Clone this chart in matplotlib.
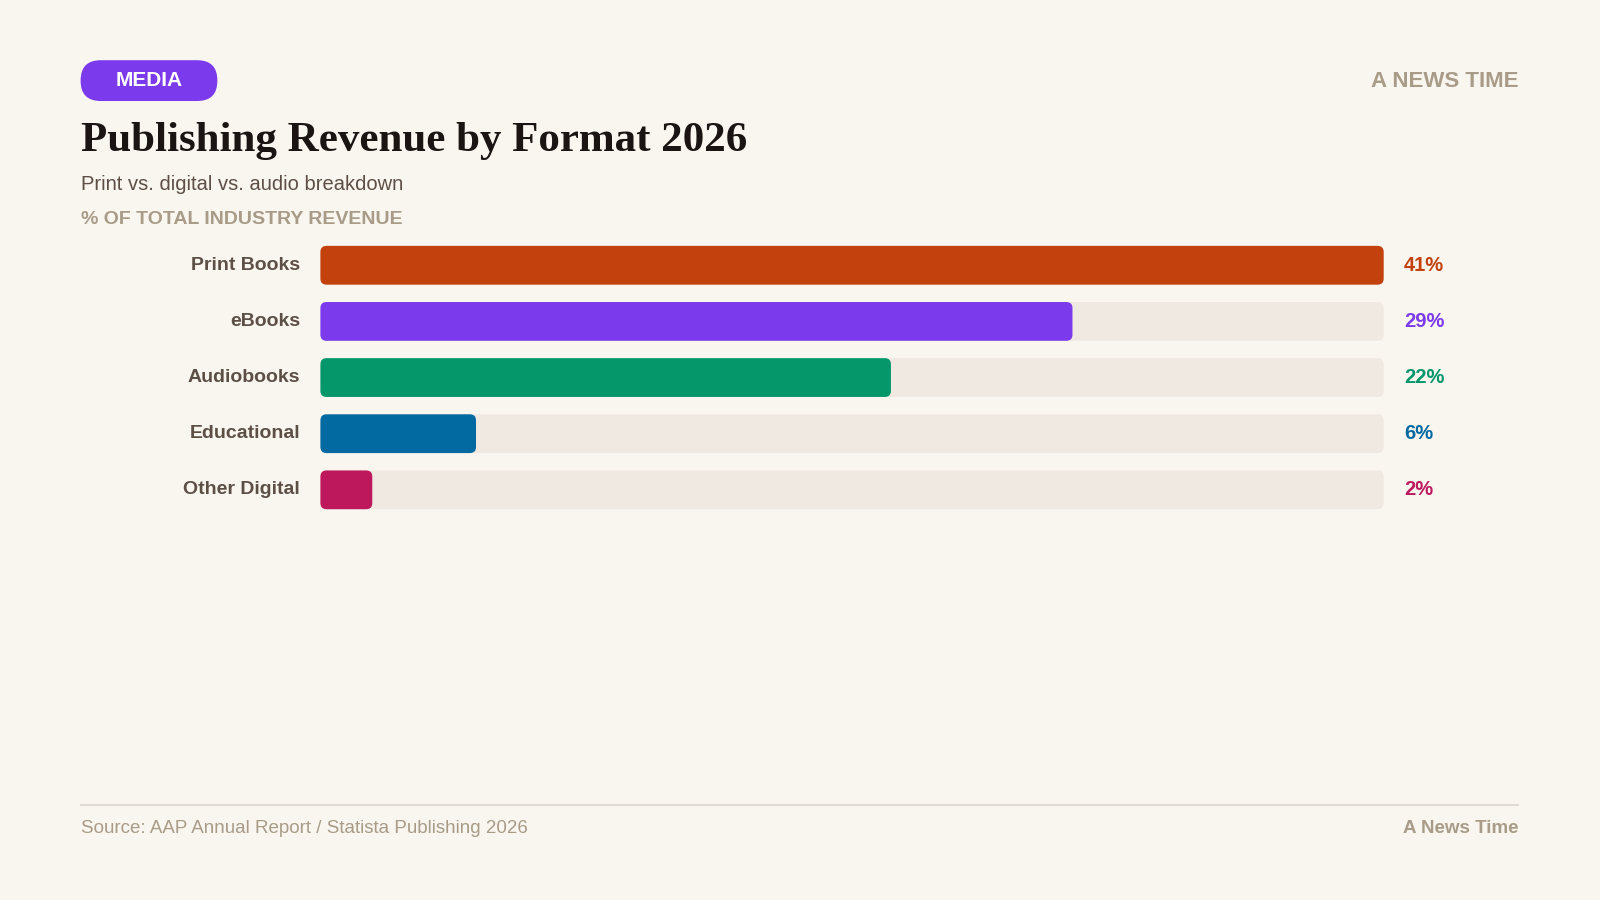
import matplotlib.pyplot as plt
from matplotlib.patches import FancyBboxPatch

categories = ['Print Books', 'eBooks', 'Audiobooks', 'Educational', 'Other Digital']
shares = [41, 29, 22, 6, 2]
colors = ['#c2410c', '#7c3aed', '#059669', '#0369a1', '#be185d']

BG = '#f9f5ef'
W, H = 1568, 882


def fx(px):
    return px / W


def fy(py):
    return 1 - py / H


fig = plt.figure(figsize=(16, 9), dpi=100, facecolor=BG)

# badge
fig.patches.append(FancyBboxPatch((fx(79), fy(99)), fx(213) - fx(79), fy(59) - fy(99),
                                  boxstyle='round,pad=0,rounding_size=0.0126',
                                  mutation_aspect=W / H, transform=fig.transFigure,
                                  facecolor='#7c3aed', edgecolor='none'))
fig.text(fx(146), fy(79), 'MEDIA', color='white', fontsize=15, fontweight='bold',
         ha='center', va='center', family='Liberation Sans')
fig.text(fx(1488), fy(80), 'A NEWS TIME', color='#a89c88', fontsize=16, fontweight='bold',
         ha='right', va='center', family='Liberation Sans')
fig.text(fx(79), fy(138), 'Publishing Revenue by Format 2026', color='#1a1512', fontsize=31,
         fontweight='bold', ha='left', va='center', family='Liberation Serif')
fig.text(fx(79), fy(181), 'Print vs. digital vs. audio breakdown', color='#5c5046', fontsize=14.5,
         ha='left', va='center', family='Liberation Sans')
fig.text(fx(79), fy(215), '% OF TOTAL INDUSTRY REVENUE', color='#a89c88', fontsize=14,
         fontweight='bold', ha='left', va='center', family='Liberation Sans')

ax = fig.add_axes([fx(314), fy(507), fx(1356) - fx(314), fy(233) - fy(507)])
ax.set_facecolor(BG)
top = max(shares)
ax.set_xlim(0, top)
ax.set_ylim(4.49, -0.49)
ax.axis('off')

bh = 38 / 55
aspect = (4.98 / 274) / (top / 1042)
rad = 6 * top / 1042
for i, (cat, val, col) in enumerate(zip(categories, shares, colors)):
    ax.add_patch(FancyBboxPatch((0, i - bh / 2), top, bh,
                                boxstyle=f'round,pad=0,rounding_size={rad}',
                                mutation_aspect=aspect, facecolor='#efe9e2', edgecolor='none'))
    ax.add_patch(FancyBboxPatch((0, i - bh / 2), val, bh,
                                boxstyle=f'round,pad=0,rounding_size={rad}',
                                mutation_aspect=aspect, facecolor=col, edgecolor='none'))
    ax.text(-top * 20 / 1042, i, cat, ha='right', va='center', fontsize=14, fontweight='bold',
            color='#5c5046', family='Liberation Sans')
    ax.text(top * 1.019, i, f'{val}%', ha='left', va='center', fontsize=14.5, fontweight='bold',
            color=col, family='Liberation Sans')

fig.add_artist(plt.Line2D([fx(79), fx(1488)], [fy(789), fy(789)], color='#ddd5ca', lw=1.2))
fig.text(fx(79), fy(812), 'Source: AAP Annual Report / Statista Publishing 2026', color='#a89c88',
         fontsize=13.5, ha='left', va='center', family='Liberation Sans')
fig.text(fx(1488), fy(812), 'A News Time', color='#a89c88', fontsize=13.5, fontweight='bold',
         ha='right', va='center', family='Liberation Sans')

fig.savefig('out.png', facecolor=BG)
